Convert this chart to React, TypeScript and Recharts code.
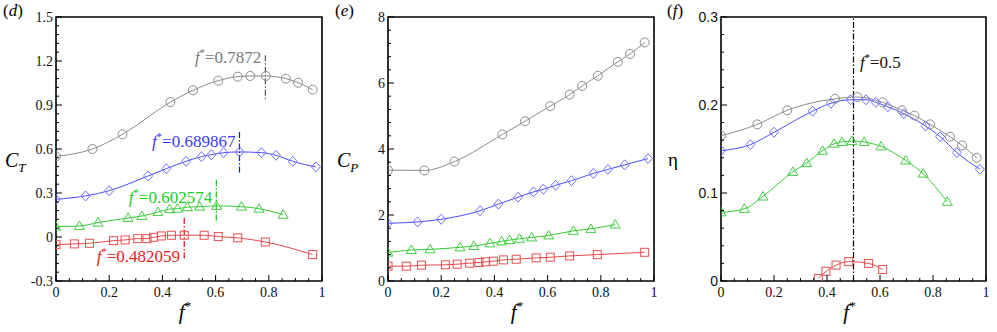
import React from 'react';
import { LineChart, Line, XAxis, YAxis, ReferenceLine, ReferenceArea, ReferenceDot } from 'recharts';

// frequency ratio f* for each case (same sampling in all three panels)
const grayF = [0, 0.137, 0.25, 0.43, 0.515, 0.61, 0.683, 0.73, 0.789, 0.864, 0.91, 0.965];
const blueF = [0, 0.111, 0.2, 0.346, 0.415, 0.489, 0.547, 0.584, 0.63, 0.69, 0.772, 0.827, 0.89, 0.977];
const greenF = [0, 0.088, 0.158, 0.271, 0.323, 0.383, 0.427, 0.457, 0.494, 0.54, 0.604, 0.697, 0.763, 0.854];
const redF = [0, 0.069, 0.126, 0.216, 0.26, 0.307, 0.342, 0.367, 0.396, 0.434, 0.482, 0.557, 0.61, 0.683, 0.787, 0.965];
const redEtaF = [0.367, 0.396, 0.434, 0.482, 0.557, 0.61];

// (d) thrust coefficient
const grayCT = [0.55, 0.6, 0.7, 0.92, 1.0, 1.066, 1.093, 1.098, 1.098, 1.08, 1.052, 1.005];
const blueCT = [0.257, 0.28, 0.316, 0.416, 0.466, 0.516, 0.548, 0.561, 0.575, 0.58, 0.575, 0.557, 0.516, 0.478];
const greenCT = [0.071, 0.075, 0.098, 0.13, 0.143, 0.17, 0.19, 0.193, 0.203, 0.207, 0.212, 0.207, 0.193, 0.152];
const redCT = [-0.052, -0.047, -0.043, -0.025, -0.02, -0.011, -0.011, -0.002, 0.007, 0.012, 0.012, 0.012, 0.003, -0.006, -0.034, -0.12];

// (e) power coefficient
const grayCP = [3.36, 3.35, 3.62, 4.44, 4.84, 5.3, 5.65, 5.91, 6.22, 6.64, 6.88, 7.23];
const blueCP = [1.75, 1.79, 1.87, 2.13, 2.33, 2.54, 2.7, 2.78, 2.9, 3.04, 3.26, 3.38, 3.52, 3.71];
const greenCP = [0.86, 0.94, 0.96, 1.02, 1.06, 1.14, 1.2, 1.24, 1.28, 1.32, 1.38, 1.52, 1.58, 1.71];
const redCP = [0.45, 0.45, 0.48, 0.49, 0.51, 0.54, 0.56, 0.58, 0.6, 0.64, 0.66, 0.7, 0.72, 0.76, 0.8, 0.87];

// (f) efficiency
const grayEta = [0.165, 0.178, 0.194, 0.207, 0.209, 0.203, 0.194, 0.188, 0.178, 0.164, 0.154, 0.14];
const blueEta = [0.148, 0.155, 0.169, 0.193, 0.202, 0.206, 0.206, 0.203, 0.198, 0.19, 0.176, 0.164, 0.146, 0.127];
const greenEta = [0.078, 0.082, 0.096, 0.124, 0.134, 0.148, 0.156, 0.158, 0.159, 0.158, 0.153, 0.137, 0.122, 0.09];
const redEta = [0.003, 0.011, 0.018, 0.022, 0.02, 0.013];

// tick labels
const xMajor = [0, 0.2, 0.4, 0.6, 0.8, 1];
const ctMajor = [-0.3, 0, 0.3, 0.6, 0.9, 1.2, 1.5];
const cpMajor = [0, 2, 4, 6, 8];
const etaMajor = [0, 0.1, 0.2, 0.3];

// optimal frequency markers
const ctOptima = [
  { f: 0.7872, text: '=0.7872', top: 1.24, bottom: 0.94, ty: 1.186, color: '#7a7a7a', line: '#555' },
  { f: 0.689867, text: '=0.689867', top: 0.716, bottom: 0.437, ty: 0.614, color: '#3c3cff', line: '#1010ff' },
  { f: 0.602574, text: '=0.602574', top: 0.389, bottom: 0.098, ty: 0.232, color: '#22cc22', line: '#10c010' },
  { f: 0.482059, text: '=0.482059', top: 0.13, bottom: -0.156, ty: -0.17, color: '#ee2222', line: '#e01010' },
];

const serif = "'Liberation Serif', 'Times New Roman', Times, serif";
const sans = "'Liberation Sans', Arial, sans-serif";

const pts = (xs: number[], ys: number[]) => xs.map((x, i) => ({ x, y: ys[i] }));

const steps = (min: number, max: number, step: number) => {
  const out: number[] = [];
  const n = Math.round((max - min) / step);
  for (let i = 0; i <= n; i++) out.push(+(min + i * step).toFixed(4));
  return out;
};

const isMajor = (majors: number[], v: number) => majors.some((m) => Math.abs(m - v) < 1e-6);

const Marker = ({ cx, cy, shape, color }: any) => {
  if (cx == null || cy == null) return null;
  if (shape === 'circle') return <circle cx={cx} cy={cy} r={4.5} fill="none" stroke={color} />;
  if (shape === 'diamond')
    return (
      <polygon
        points={`${cx},${cy - 5} ${cx + 4.5},${cy} ${cx},${cy + 5} ${cx - 4.5},${cy}`}
        fill="none"
        stroke={color}
      />
    );
  if (shape === 'triangle')
    return (
      <polygon
        points={`${cx},${cy - 5} ${cx + 5},${cy + 3.5} ${cx - 5},${cy + 3.5}`}
        fill="none"
        stroke={color}
      />
    );
  return <rect x={cx - 4} y={cy - 4} width={8} height={8} fill="none" stroke={color} />;
};

const styles = {
  gray: { shape: 'circle', line: '#8c8c8c', mark: '#8c8c8c' },
  blue: { shape: 'diamond', line: '#4a4aff', mark: '#7070ff' },
  green: { shape: 'triangle', line: '#33cc33', mark: '#44cc44' },
  red: { shape: 'square', line: '#e84a4a', mark: '#e85050' },
};

const FStar = ({ x, y, text, color, anchor, size }: any) => (
  <text x={x} y={y} textAnchor={anchor} fontSize={size} style={{ fontFamily: serif }} fill={color}>
    <tspan fontStyle="italic">f</tspan>
    <tspan fontSize={size * 0.62} dy={-size * 0.42}>*</tspan>
    <tspan dy={size * 0.42}>{text}</tspan>
  </text>
);

type PanelProps = {
  tag: string;
  yTitle: React.ReactNode;
  yDomain: [number, number];
  yMajor: number[];
  yMinorStep: number;
  yFont: string;
  plotLeft: number;
  width: number;
  series: { data: { x: number; y: number }[]; kind: keyof typeof styles }[];
  children?: React.ReactNode;
};

const Panel = ({ tag, yTitle, yDomain, yMajor, yMinorStep, yFont, plotLeft, width, series, children }: PanelProps) => {
  const plotBottom = 281;
  const yTicks = steps(yDomain[0], yDomain[1], yMinorStep);
  const xTicks = steps(0, 1, 0.05);

  const yTick = (p: any) => {
    const v = p.payload.value;
    const major = isMajor(yMajor, v);
    return (
      <g>
        <line x1={plotLeft} x2={plotLeft + (major ? 6 : 3)} y1={p.y} y2={p.y} stroke="#000" />
        {major && (
          <text x={plotLeft - 3} y={p.y + 5} textAnchor="end" fontSize={14} style={{ fontFamily: yFont }} fill="#111">
            {String(v)}
          </text>
        )}
      </g>
    );
  };

  const xTick = (p: any) => {
    const v = p.payload.value;
    const major = isMajor(xMajor, v);
    return (
      <g>
        <line x1={p.x} x2={p.x} y1={plotBottom} y2={plotBottom - (major ? 6 : 3)} stroke="#000" />
        {major && (
          <text x={p.x} y={plotBottom + 16} textAnchor="middle" fontSize={14} style={{ fontFamily: serif }} fill="#111">
            {String(v)}
          </text>
        )}
      </g>
    );
  };

  return (
    <LineChart width={width} height={332} margin={{ top: 17, right: width - 322, left: 0, bottom: 0 }}>
      <XAxis
        dataKey="x"
        type="number"
        domain={[0, 1]}
        allowDataOverflow
        ticks={xTicks}
        interval={0}
        tick={xTick}
        tickLine={false}
        axisLine={false}
        height={51}
        label={(lp: any) => {
          const vb = lp.viewBox;
          return <FStar x={vb.x + vb.width / 2 - 4} y={319} text="" color="#000" anchor="middle" size={21} />;
        }}
      />
      <YAxis
        type="number"
        domain={yDomain}
        allowDataOverflow
        ticks={yTicks}
        interval={0}
        tick={yTick}
        tickLine={false}
        axisLine={false}
        width={plotLeft}
        label={() => (
          <g>
            <text x={3} y={16} fontSize={17} style={{ fontFamily: serif }}>
              (<tspan fontStyle="italic">{tag}</tspan>)
            </text>
            {yTitle}
          </g>
        )}
      />
      <ReferenceArea
        x1={0}
        x2={1}
        y1={yDomain[0]}
        y2={yDomain[1]}
        fill="none"
        stroke="#000"
        strokeWidth={1.6}
        ifOverflow="visible"
      />
      {children}
      {series.map((s, i) => {
        const st = styles[s.kind];
        return (
          <Line
            key={i}
            data={s.data}
            dataKey="y"
            type="monotone"
            stroke={st.line}
            strokeWidth={1}
            isAnimationActive={false}
            activeDot={false}
            dot={(p: any) => <Marker key={p.index} cx={p.cx} cy={p.cy} shape={st.shape} color={st.mark} />}
          />
        );
      })}
    </LineChart>
  );
};

const CTitle = ({ sub, y }: { sub: string; y: number }) => (
  <text x={5} y={y} fontSize={20} style={{ fontFamily: serif }} fontStyle="italic">
    C<tspan fontSize={13} dy={5}>{sub}</tspan>
  </text>
);

export default function App() {
  return (
    <div style={{ position: 'absolute', left: 0, top: 0, width: 997, height: 332, background: '#fff' }}>
      <div style={{ position: 'absolute', left: 0, top: 0 }}>
        <Panel
          tag="d"
          yTitle={<CTitle sub="T" y={167} />}
          yDomain={[-0.3, 1.5]}
          yMajor={ctMajor}
          yMinorStep={0.06}
          yFont={serif}
          plotLeft={56}
          width={332}
          series={[
            { data: pts(grayF, grayCT), kind: 'gray' },
            { data: pts(blueF, blueCT), kind: 'blue' },
            { data: pts(greenF, greenCT), kind: 'green' },
            { data: pts(redF, redCT), kind: 'red' },
          ]}
        >
          {ctOptima.map((o, i) => (
            <ReferenceLine
              key={'l' + i}
              segment={[
                { x: o.f, y: o.top },
                { x: o.f, y: o.bottom },
              ]}
              stroke={o.line}
              strokeWidth={1.2}
              strokeDasharray="6 2 1.5 2"
            />
          ))}
          {ctOptima.map((o, i) => (
            <ReferenceDot
              key={'t' + i}
              x={o.f - 0.015}
              y={o.ty}
              r={0.1}
              fill="none"
              stroke="none"
              label={(lp: any) => (
                <FStar x={lp.viewBox.x} y={lp.viewBox.y} text={o.text} color={o.color} anchor="end" size={17} />
              )}
            />
          ))}
        </Panel>
      </div>
      <div style={{ position: 'absolute', left: 332, top: 0 }}>
        <Panel
          tag="e"
          yTitle={<CTitle sub="P" y={167} />}
          yDomain={[0, 8]}
          yMajor={cpMajor}
          yMinorStep={0.4}
          yFont={serif}
          plotLeft={56}
          width={332}
          series={[
            { data: pts(grayF, grayCP), kind: 'gray' },
            { data: pts(blueF, blueCP), kind: 'blue' },
            { data: pts(greenF, greenCP), kind: 'green' },
            { data: pts(redF, redCP), kind: 'red' },
          ]}
        />
      </div>
      <div style={{ position: 'absolute', left: 664, top: 0 }}>
        <Panel
          tag="f"
          yTitle={
            <text x={4} y={166} fontSize={19} style={{ fontFamily: serif }}>
              η
            </text>
          }
          yDomain={[0, 0.3]}
          yMajor={etaMajor}
          yMinorStep={0.02}
          yFont={sans}
          plotLeft={57}
          width={333}
          series={[
            { data: pts(grayF, grayEta), kind: 'gray' },
            { data: pts(blueF, blueEta), kind: 'blue' },
            { data: pts(greenF, greenEta), kind: 'green' },
            { data: pts(redEtaF, redEta), kind: 'red' },
          ]}
        >
          <ReferenceLine x={0.5} stroke="#000" strokeWidth={1.2} strokeDasharray="6 2 1.5 2" />
          <ReferenceDot
            x={0.525}
            y={0.242}
            r={0.1}
            fill="none"
            stroke="none"
            label={(lp: any) => (
              <FStar x={lp.viewBox.x} y={lp.viewBox.y} text="=0.5" color="#111" anchor="start" size={17} />
            )}
          />
        </Panel>
      </div>
    </div>
  );
}
